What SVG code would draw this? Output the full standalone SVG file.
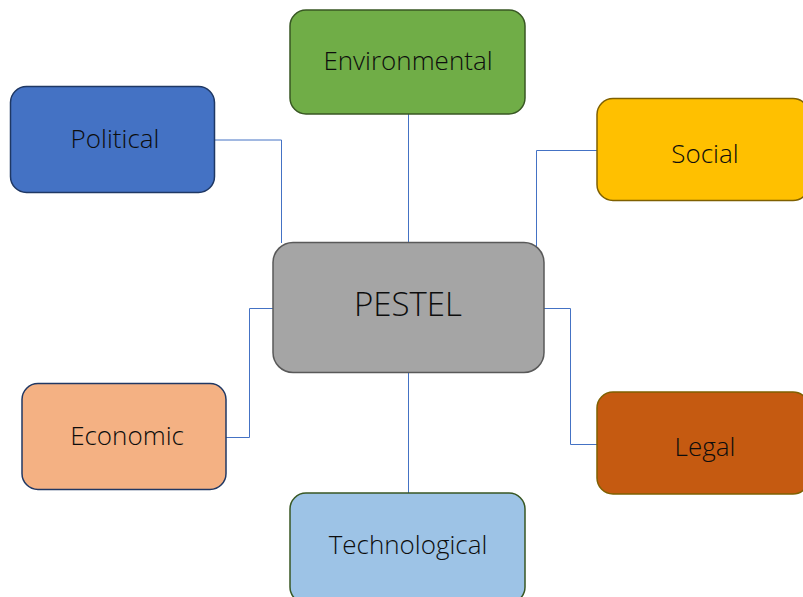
<svg xmlns="http://www.w3.org/2000/svg" width="803" height="597" viewBox="0 0 803 597">
<style>
.n{stroke-width:1.5}
.t{font-family:"Open Sans","Liberation Sans",sans-serif;font-weight:300;font-size:26px;fill:#0d0d0d;text-anchor:middle;dominant-baseline:central}
.c{fill:none;stroke:#4472C4;stroke-width:1}
</style>
<rect width="803" height="597" fill="#fff"/>
<g id="connectors">
<path class="c" d="M215,140H281.5V243"/>
<path class="c" d="M597,150.5H536.5V248"/>
<path class="c" d="M226,437.5H249.5V308.5H273"/>
<path class="c" d="M544,308.5H570.5V444.5H597"/>
<path class="c" d="M408.5,114V242"/>
<path class="c" d="M408.5,373V493"/>
</g>
<g id="political"><rect class="n" x="10.5" y="86.5" width="204" height="106" rx="16" fill="#4472C4" stroke="#1F3864"/><text class="t" x="115" y="138">Political</text></g>
<g id="environmental"><rect class="n" x="290" y="10" width="235" height="104" rx="16" fill="#70AD47" stroke="#385723"/><text class="t" x="408" y="60">Environmental</text></g>
<g id="social"><rect class="n" x="597" y="98.5" width="212" height="102" rx="16" fill="#FFC000" stroke="#7F6000"/><text class="t" x="705" y="153">Social</text></g>
<g id="economic"><rect class="n" x="22" y="383.5" width="204" height="106" rx="16" fill="#F4B183" stroke="#203864"/><text class="t" x="127" y="435">Economic</text></g>
<g id="legal"><rect class="n" x="597" y="392" width="212" height="102" rx="16" fill="#C55A11" stroke="#7F6000"/><text class="t" x="705" y="446">Legal</text></g>
<g id="technological"><rect class="n" x="290" y="493" width="235" height="110" rx="16" fill="#9DC3E6" stroke="#385723"/><text class="t" x="408" y="544">Technological</text></g>
<g id="pestel"><rect class="n" x="273" y="242.5" width="271" height="130" rx="20" fill="#A5A5A5" stroke="#595959"/><text class="t" x="408" y="303" style="font-size:33px">PESTEL</text></g>
</svg>
